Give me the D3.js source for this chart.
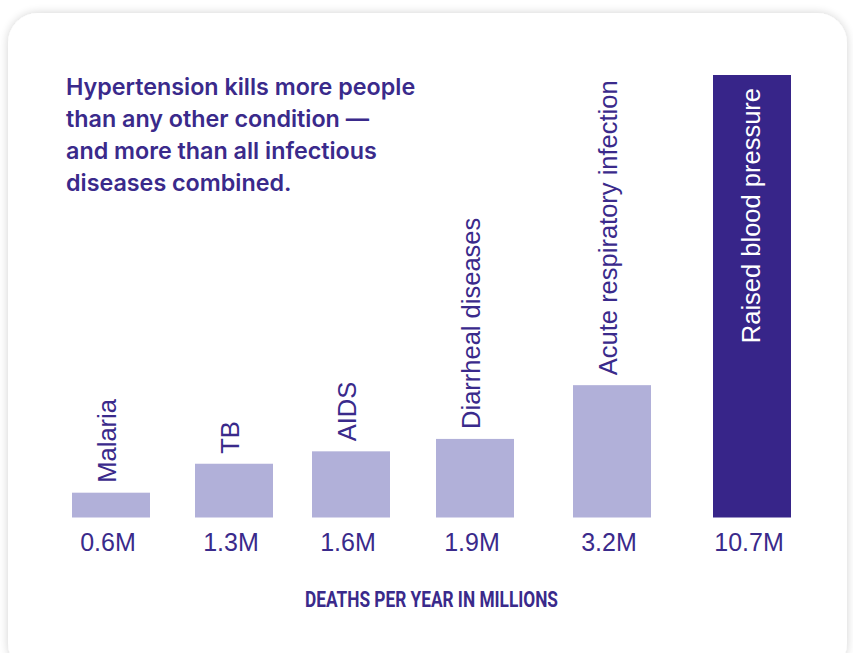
<!DOCTYPE html>
<html>
<head>
<meta charset="utf-8">
<script src="https://cdn.jsdelivr.net/npm/d3@7"></script>
<style>
  html, body { margin: 0; padding: 0; background: #ffffff; }
  svg { display: block; }
</style>
</head>
<body>
<div id="chart"></div>
<script>
const categories = ["Malaria", "TB", "AIDS", "Diarrheal diseases", "Acute respiratory infection", "Raised blood pressure"];
const deaths = [0.6, 1.3, 1.6, 1.9, 3.2, 10.7];
const valueLabels = ["0.6M", "1.3M", "1.6M", "1.9M", "3.2M", "10.7M"];
const highlight = ["Raised blood pressure"];
const titleLines = [
  "Hypertension kills more people",
  "than any other condition \u2014",
  "and more than all infectious",
  "diseases combined."
];
const axisTitle = "DEATHS PER YEAR IN MILLIONS";

const W = 853, H = 653;
const svg = d3.select("#chart").append("svg").attr("width", W).attr("height", H);

const defs = svg.append("defs");
const f = defs.append("filter").attr("id", "shadow").attr("x", "-10%").attr("y", "-10%").attr("width", "120%").attr("height", "120%");
f.append("feGaussianBlur").attr("in", "SourceAlpha").attr("stdDeviation", 5).attr("result", "b");
f.append("feOffset").attr("in", "b").attr("dx", 0).attr("dy", 0).attr("result", "o");
f.append("feComponentTransfer").attr("in", "o").attr("result", "s")
  .append("feFuncA").attr("type", "linear").attr("slope", 0.18);
const fm = f.append("feMerge");
fm.append("feMergeNode").attr("in", "s");
fm.append("feMergeNode").attr("in", "SourceGraphic");

svg.append("rect")
  .attr("x", 8).attr("y", 13).attr("width", 839).attr("height", 660)
  .attr("rx", 30).attr("ry", 30)
  .attr("fill", "#ffffff")
  .attr("filter", "url(#shadow)");

const textColor = "#3a2a8b";
const lightBar = "#b1b0d9";
const darkBar = "#372589";

const x = d3.scaleOrdinal()
  .domain(categories)
  .range([111, 234, 351, 475, 612, 752]);
const barW = 78;
const y = d3.scaleLinear().domain([0, 10.7]).range([517.5, 75]);

const data = categories.map((c, i) => ({ c, v: deaths[i], lab: valueLabels[i], hi: highlight.includes(c) }));

svg.append("g").selectAll("rect").data(data).join("rect")
  .attr("x", d => x(d.c) - barW / 2)
  .attr("width", barW)
  .attr("y", d => y(d.v))
  .attr("height", d => y(0) - y(d.v))
  .attr("fill", d => d.hi ? darkBar : lightBar);

// category labels (rotated)
svg.append("g").selectAll("text").data(data).join("text")
  .attr("transform", d => d.hi
      ? `translate(${x(d.c) + 8},${y(d.v) + 13}) rotate(-90)`
      : `translate(${x(d.c) + 5},${y(d.v) - 10}) rotate(-90)`)
  .attr("text-anchor", d => d.hi ? "end" : "start")
  .attr("font-family", "'Liberation Sans', Arial, sans-serif")
  .attr("font-size", 25.5)
  .attr("fill", d => d.hi ? "#ffffff" : textColor)
  .text(d => d.c);

// value labels
svg.append("g").selectAll("text").data(data).join("text")
  .attr("x", d => x(d.c) - 3)
  .attr("y", 551)
  .attr("text-anchor", "middle")
  .attr("font-family", "'Liberation Sans', Arial, sans-serif")
  .attr("font-size", 25)
  .attr("fill", textColor)
  .text(d => d.lab);

// title
svg.append("text")
  .attr("font-family", "Inter, 'Noto Sans', sans-serif")
  .attr("font-weight", 600)
  .attr("font-size", 23.3)
  .attr("fill", textColor)
  .selectAll("tspan").data(titleLines).join("tspan")
  .attr("x", 66)
  .attr("y", (d, i) => 95 + i * 32)
  .text(d => d);

// axis title
svg.append("text")
  .attr("x", 431.5)
  .attr("y", 607)
  .attr("text-anchor", "middle")
  .attr("font-family", "Roboto, 'Liberation Sans', sans-serif")
  .attr("font-weight", 700)
  .attr("font-size", 22)
  .attr("textLength", 253)
  .attr("lengthAdjust", "spacingAndGlyphs")
  .attr("fill", textColor)
  .text(axisTitle);
</script>
</body>
</html>
